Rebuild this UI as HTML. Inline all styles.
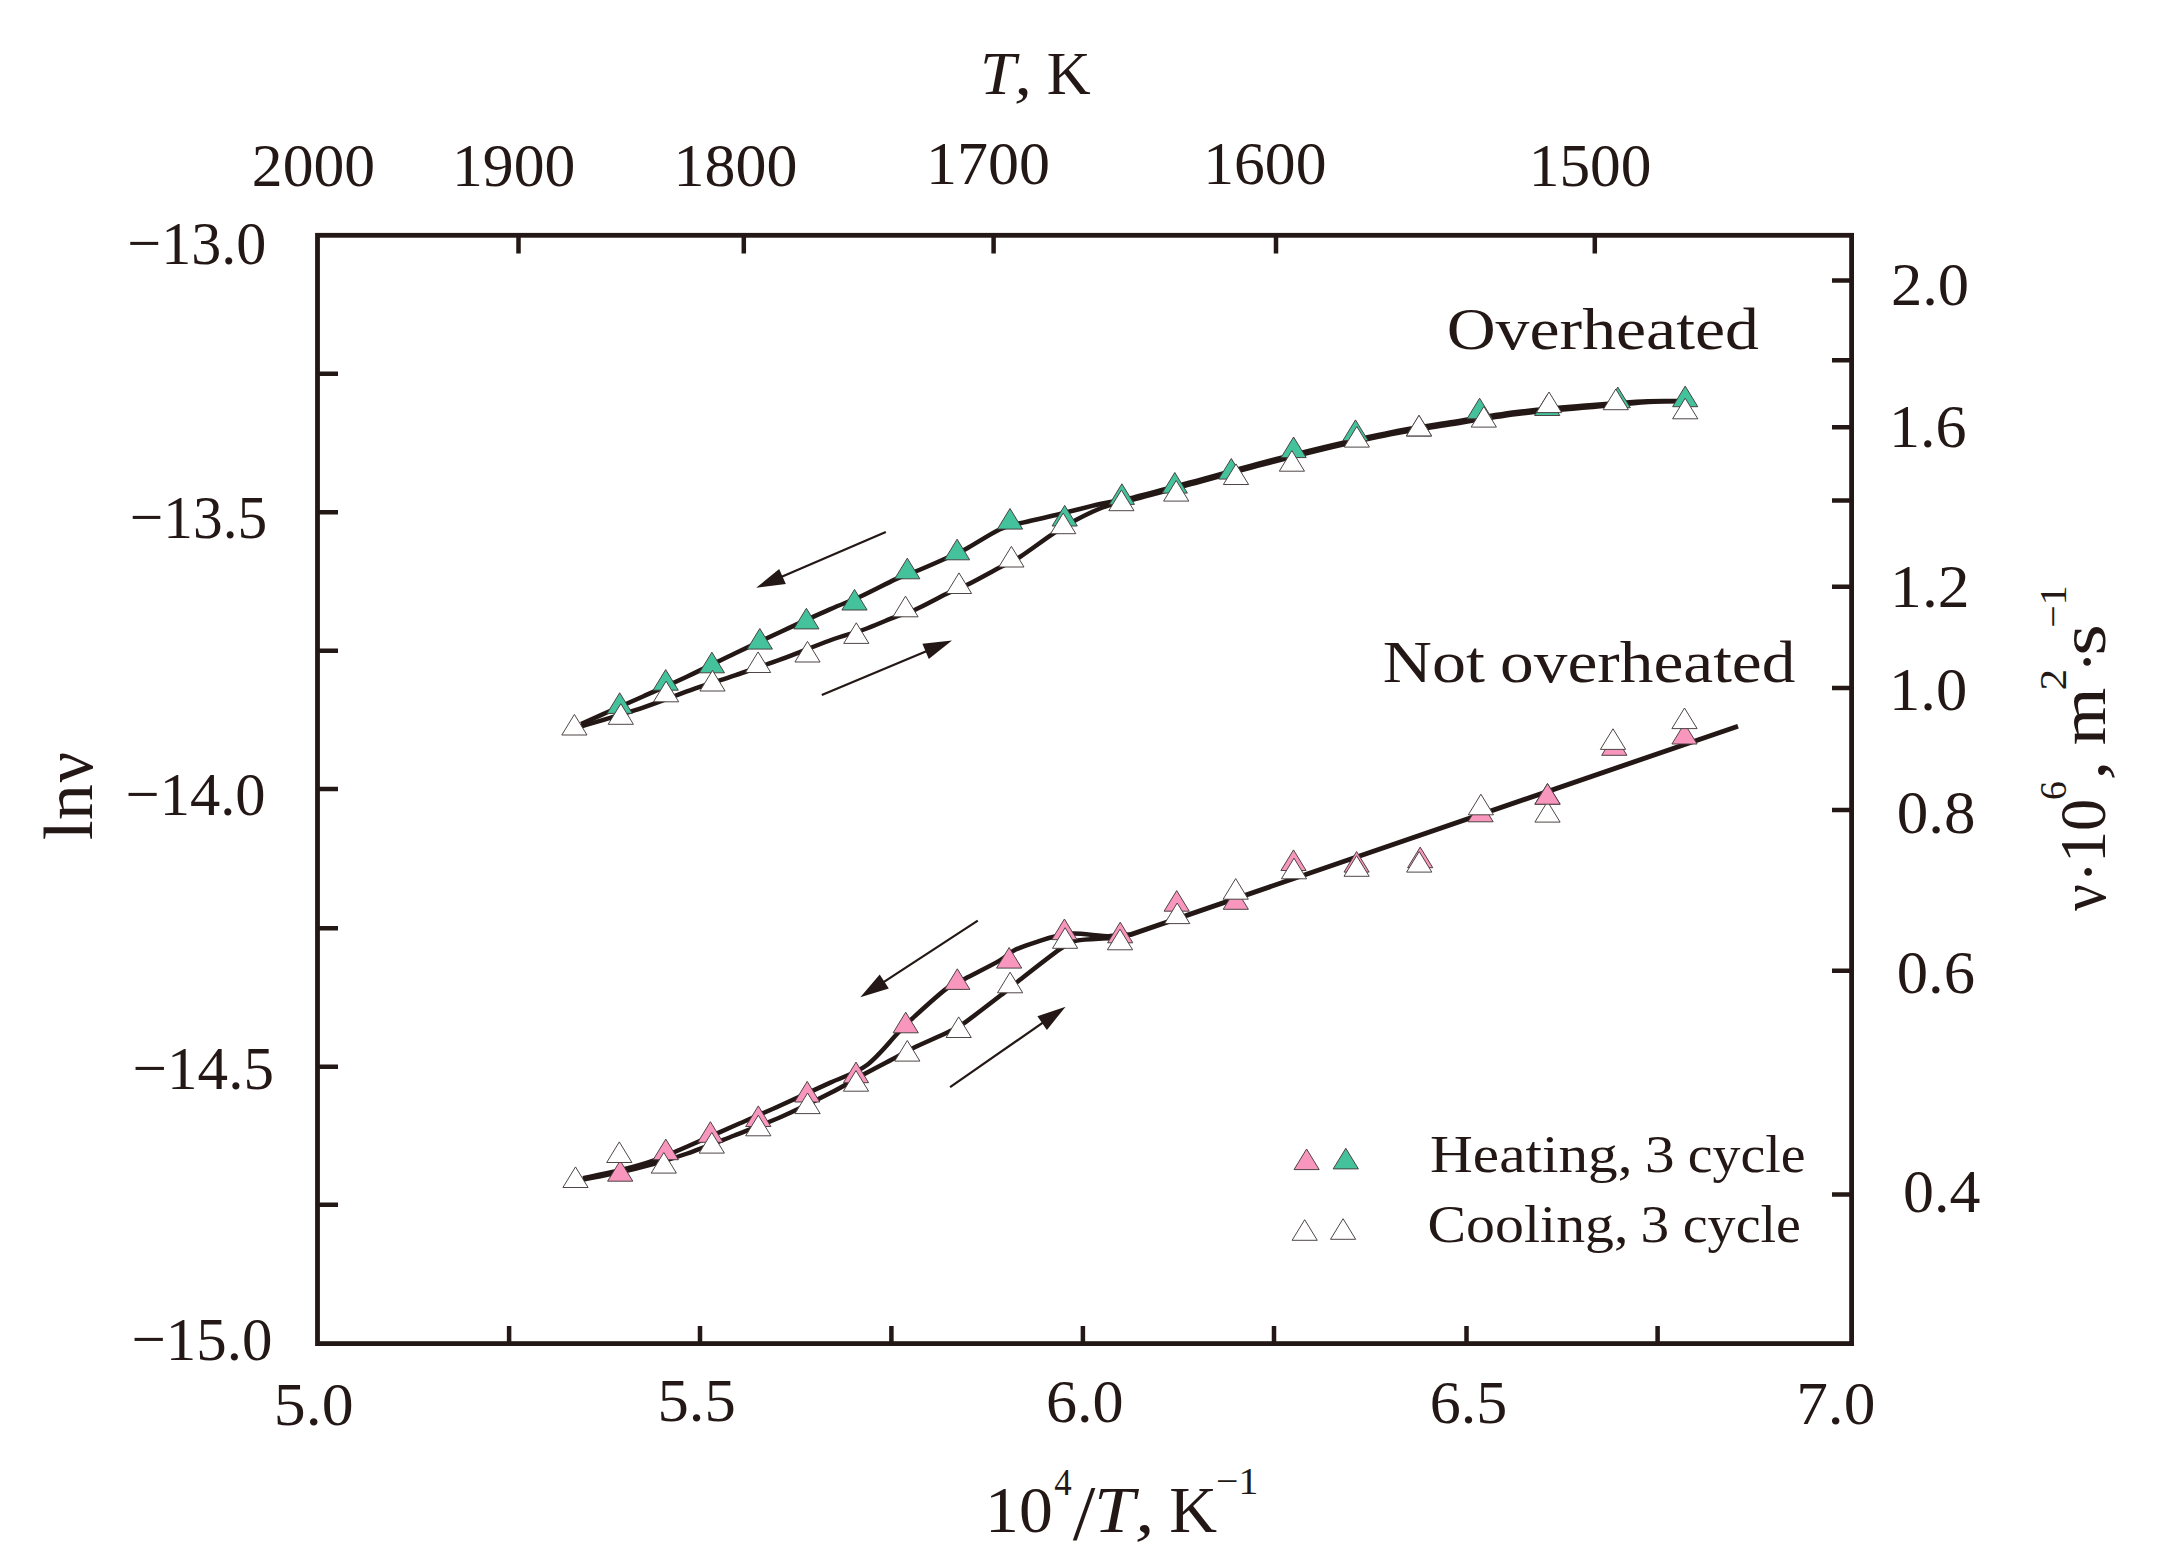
<!DOCTYPE html>
<html><head><meta charset="utf-8"><title>Viscosity chart</title>
<style>html,body{margin:0;padding:0;background:#fff}svg{display:block}text{font-family:"Liberation Serif",serif;fill:#231815}</style>
</head><body>
<svg width="2168" height="1568" viewBox="0 0 2168 1568">
<rect width="2168" height="1568" fill="#fff"/>
<rect x="317.5" y="235.3" width="1534.1" height="1108.3" fill="none" stroke="#231815" stroke-width="4.8"/>
<path d="M518.5 235.3V253.6 M743.8 235.3V253.6 M993.6 235.3V253.6 M1276 235.3V253.6 M1594.8 235.3V253.6 M509.1 1343.6V1326 M700 1343.6V1326 M891.4 1343.6V1326 M1082.9 1343.6V1326 M1274 1343.6V1326 M1466.5 1343.6V1326 M1657.6 1343.6V1326 M317.5 373.7H338 M317.5 512.3H338 M317.5 650.7H338 M317.5 789.0H338 M317.5 928.3H338 M317.5 1066.7H338 M317.5 1204.8H338 M1851.6 280.6H1832 M1851.6 360.3H1832 M1851.6 427.3H1832 M1851.6 500.6H1832 M1851.6 586.7H1832 M1851.6 688.1H1832 M1851.6 809.9H1832 M1851.6 970.8H1832 M1851.6 1194.5H1832" fill="none" stroke="#231815" stroke-width="4.5"/>
<g fill="none" stroke="#231815" stroke-width="4.5" stroke-linejoin="round">
<path d="M581.0 724.0C585.6 722.0 598.1 716.4 608.4 711.8C618.7 707.2 629.9 702.4 643.0 696.5C656.1 690.6 671.8 683.8 687.3 676.5C702.8 669.2 720.0 660.5 735.7 653.0C751.4 645.5 765.7 638.8 781.4 631.5C797.1 624.2 816.4 615.3 829.8 609.4C843.2 603.5 850.5 601.1 861.6 596.0C872.7 590.9 887.0 583.1 896.4 578.9C905.8 574.6 909.6 574.0 918.0 570.5C926.4 567.0 938.7 561.6 946.7 558.0C954.7 554.4 957.1 553.8 965.9 549.0C974.7 544.2 990.5 533.8 999.5 529.5C1008.5 525.2 1010.5 525.7 1019.9 523.3C1029.3 520.9 1042.6 518.2 1055.9 515.0C1069.2 511.8 1087.2 506.9 1100.0 504.0C1112.8 501.1 1117.8 501.2 1133.0 497.6C1148.2 494.0 1170.3 487.8 1191.1 482.2C1211.8 476.6 1235.3 469.8 1257.5 463.9C1279.7 458.0 1301.8 452.4 1324.0 447.1C1346.2 441.9 1369.8 436.4 1390.4 432.4C1411.0 428.3 1426.6 426.2 1447.7 422.8C1468.8 419.4 1493.9 414.9 1516.9 412.0C1540.0 409.1 1564.1 407.3 1586.0 405.5C1607.9 403.7 1632.1 401.9 1648.3 401.2C1664.5 400.5 1677.2 401.1 1683.0 401.1"/>
<path d="M581.0 726.6C591.3 723.4 624.8 713.7 643.0 707.6C661.2 701.5 674.5 695.7 690.0 690.3C705.5 684.9 720.5 680.3 735.7 675.1C750.9 669.9 765.7 665.0 781.4 659.2C797.1 653.4 816.0 645.5 829.8 640.5C843.6 635.5 853.5 633.3 864.0 629.5C874.5 625.7 884.2 621.2 892.8 617.9C901.4 614.6 906.6 613.5 915.6 609.5C924.6 605.5 937.9 598.0 946.7 593.8C955.5 589.6 959.3 588.8 968.3 584.3C977.3 579.8 992.1 571.5 1000.7 567.0C1009.3 562.5 1011.1 562.6 1019.9 557.0C1028.7 551.4 1044.3 539.5 1053.5 533.4C1062.7 527.3 1067.2 524.6 1075.0 520.5C1082.8 516.4 1092.8 511.5 1100.0 508.5C1107.2 505.5 1112.5 504.0 1118.0 502.5C1123.5 501.0 1120.8 502.7 1133.0 499.6C1145.2 496.6 1170.3 489.8 1191.1 484.2C1211.8 478.6 1235.3 471.8 1257.5 465.9C1279.7 460.0 1301.8 454.4 1324.0 449.1C1346.2 443.9 1369.8 438.4 1390.4 434.4C1411.0 430.3 1426.6 428.2 1447.7 424.8C1468.8 421.4 1493.9 416.9 1516.9 414.0C1540.0 411.1 1564.1 409.5 1586.0 407.5C1607.9 405.5 1632.1 403.1 1648.3 402.0C1664.5 401.0 1677.2 401.4 1683.0 401.3"/>
<path d="M583.0 1178.2C589.2 1176.9 608.1 1173.3 620.0 1170.3C631.9 1167.3 642.9 1164.4 654.1 1160.4C665.3 1156.4 673.9 1152.3 687.3 1146.5C700.7 1140.7 718.6 1132.7 734.3 1125.8C750.0 1118.9 765.5 1112.2 781.4 1105.0C797.3 1097.8 815.6 1089.5 829.8 1082.9C843.9 1076.3 854.9 1073.8 866.3 1065.5C877.7 1057.2 890.3 1040.8 898.1 1032.8C905.9 1024.8 905.2 1025.0 913.3 1017.6C921.4 1010.2 937.7 995.2 946.5 988.6C955.3 982.0 957.1 982.8 965.9 978.2C974.7 973.6 990.8 965.7 999.1 960.9C1007.4 956.1 1008.8 953.0 1015.7 949.6C1022.6 946.2 1033.9 942.8 1040.6 940.6C1047.3 938.4 1050.4 937.5 1055.9 936.3C1061.4 935.1 1064.8 933.6 1073.8 933.6C1082.8 933.6 1100.3 936.1 1109.8 936.3C1119.3 936.5 1127.1 934.9 1130.6 934.6"/>
<path d="M1109.8 936.3L1130.6 934.6L1738 726.2" stroke-width="4.9"/>
<path d="M583.0 1179.4C589.2 1178.2 608.1 1174.9 620.0 1172.3C631.9 1169.7 642.9 1166.9 654.1 1163.8C665.3 1160.7 673.9 1158.2 687.3 1153.5C700.7 1148.8 718.6 1141.6 734.3 1135.5C750.0 1129.4 765.5 1123.8 781.4 1116.8C797.3 1109.8 815.4 1100.7 829.8 1093.3C844.2 1085.9 856.6 1078.3 867.7 1072.3C878.9 1066.2 889.1 1061.1 896.7 1057.0C904.3 1052.9 904.5 1052.2 913.3 1047.9C922.1 1043.7 940.5 1035.8 949.3 1031.5C958.1 1027.2 956.9 1028.1 965.9 1021.8C974.9 1015.4 994.5 1000.2 1003.3 993.4C1012.1 986.6 1009.0 988.3 1018.5 980.9C1028.0 973.5 1050.3 955.8 1060.0 949.1C1069.7 942.4 1068.3 942.5 1076.6 940.6C1084.9 938.8 1101.2 938.8 1109.8 938.0C1118.4 937.2 1125.0 936.3 1128.0 936.0"/>
</g>
<path d="M885.8 532.0L778.8 578.1" stroke="#231815" stroke-width="2.2" fill="none"/>
<path d="M756.2 587.8L779.2 568.9L785.8 584.1Z" fill="#231815"/>
<path d="M821.8 695.0L929.3 649.9" stroke="#231815" stroke-width="2.2" fill="none"/>
<path d="M952.0 640.4L928.8 659.1L922.4 643.8Z" fill="#231815"/>
<path d="M977.8 920.6L880.9 983.8" stroke="#231815" stroke-width="2.2" fill="none"/>
<path d="M860.3 997.2L879.7 974.6L888.8 988.5Z" fill="#231815"/>
<path d="M950.1 1087.2L1045.4 1020.8" stroke="#231815" stroke-width="2.2" fill="none"/>
<path d="M1065.6 1006.7L1046.9 1029.9L1037.4 1016.2Z" fill="#231815"/>
<g stroke="#463c3c" stroke-width="0.95" stroke-linejoin="miter">
<path d="M619.7 692.8L632.3 713.4H607.1Z" fill="#44c29c"/>
<path d="M665.7 669.6L678.3 690.2H653.1Z" fill="#44c29c"/>
<path d="M711.9 652.2L724.5 672.8H699.3Z" fill="#44c29c"/>
<path d="M759.8 628.5L772.4 649.1H747.2Z" fill="#44c29c"/>
<path d="M806.4 608.3L819.0 628.9H793.8Z" fill="#44c29c"/>
<path d="M854.5 589.4L867.1 610.0H841.9Z" fill="#44c29c"/>
<path d="M907.3 558.2L919.9 578.8H894.7Z" fill="#44c29c"/>
<path d="M957.1 539.2L969.7 559.8H944.5Z" fill="#44c29c"/>
<path d="M1010.0 508.5L1022.6 529.1H997.4Z" fill="#44c29c"/>
<path d="M1064.7 505.4L1077.3 526.0H1052.1Z" fill="#44c29c"/>
<path d="M1121.9 483.8L1134.5 504.4H1109.3Z" fill="#44c29c"/>
<path d="M1174.8 472.5L1187.4 493.1H1162.2Z" fill="#44c29c"/>
<path d="M1231.3 458.5L1243.9 479.1H1218.7Z" fill="#44c29c"/>
<path d="M1293.6 437.0L1306.2 457.6H1281.0Z" fill="#44c29c"/>
<path d="M1355.5 419.9L1368.1 440.5H1342.9Z" fill="#44c29c"/>
<path d="M1419.0 415.5L1431.6 436.1H1406.4Z" fill="#44c29c"/>
<path d="M1479.6 398.2L1492.2 418.8H1467.0Z" fill="#44c29c"/>
<path d="M1547.2 394.9L1559.8 415.5H1534.6Z" fill="#44c29c"/>
<path d="M1617.8 387.1L1630.4 407.7H1605.2Z" fill="#44c29c"/>
<path d="M1685.2 386.1L1697.8 406.7H1672.6Z" fill="#44c29c"/>
<path d="M574.4 714.4L587.0 735.0H561.8Z" fill="#fff"/>
<path d="M620.8 703.7L633.4 724.3H608.2Z" fill="#fff"/>
<path d="M666.1 681.2L678.7 701.8H653.5Z" fill="#fff"/>
<path d="M712.5 670.4L725.1 691.0H699.9Z" fill="#fff"/>
<path d="M758.1 651.9L770.7 672.5H745.5Z" fill="#fff"/>
<path d="M807.5 641.4L820.1 662.0H794.9Z" fill="#fff"/>
<path d="M856.3 622.8L868.9 643.4H843.7Z" fill="#fff"/>
<path d="M905.5 596.2L918.1 616.8H892.9Z" fill="#fff"/>
<path d="M959.0 572.9L971.6 593.5H946.4Z" fill="#fff"/>
<path d="M1011.4 546.4L1024.0 567.0H998.8Z" fill="#fff"/>
<path d="M1063.2 513.1L1075.8 533.7H1050.6Z" fill="#fff"/>
<path d="M1121.4 490.1L1134.0 510.7H1108.8Z" fill="#fff"/>
<path d="M1176.2 480.5L1188.8 501.1H1163.6Z" fill="#fff"/>
<path d="M1236.0 463.9L1248.6 484.5H1223.4Z" fill="#fff"/>
<path d="M1291.9 450.6L1304.5 471.2H1279.3Z" fill="#fff"/>
<path d="M1356.8 426.5L1369.4 447.1H1344.2Z" fill="#fff"/>
<path d="M1419.0 415.3L1431.6 435.9H1406.4Z" fill="#fff"/>
<path d="M1483.8 406.5L1496.4 427.1H1471.2Z" fill="#fff"/>
<path d="M1549.0 392.0L1561.6 412.6H1536.4Z" fill="#fff"/>
<path d="M1615.8 389.1L1628.4 409.7H1603.2Z" fill="#fff"/>
<path d="M1685.2 398.2L1697.8 418.8H1672.6Z" fill="#fff"/>
<path d="M620.2 1160.6L632.8 1181.2H607.6Z" fill="#f896bd"/>
<path d="M665.8 1139.1L678.4 1159.7H653.2Z" fill="#f896bd"/>
<path d="M710.4 1121.7L723.0 1142.3H697.8Z" fill="#f896bd"/>
<path d="M758.3 1105.9L770.9 1126.5H745.7Z" fill="#f896bd"/>
<path d="M807.2 1081.4L819.8 1102.0H794.6Z" fill="#f896bd"/>
<path d="M856.0 1062.1L868.6 1082.7H843.4Z" fill="#f896bd"/>
<path d="M905.7 1012.2L918.3 1032.8H893.1Z" fill="#f896bd"/>
<path d="M957.3 968.8L969.9 989.4H944.7Z" fill="#f896bd"/>
<path d="M1009.1 947.5L1021.7 968.1H996.5Z" fill="#f896bd"/>
<path d="M1064.4 919.0L1077.0 939.6H1051.8Z" fill="#f896bd"/>
<path d="M1120.2 922.2L1132.8 942.8H1107.6Z" fill="#f896bd"/>
<path d="M1176.7 890.6L1189.3 911.2H1164.1Z" fill="#f896bd"/>
<path d="M1235.8 888.7L1248.4 909.3H1223.2Z" fill="#f896bd"/>
<path d="M1293.5 849.9L1306.1 870.5H1280.9Z" fill="#f896bd"/>
<path d="M1356.6 851.5L1369.2 872.1H1344.0Z" fill="#f896bd"/>
<path d="M1420.2 847.1L1432.8 867.7H1407.6Z" fill="#f896bd"/>
<path d="M1480.6 801.2L1493.2 821.8H1468.0Z" fill="#f896bd"/>
<path d="M1547.5 783.6L1560.1 804.2H1534.9Z" fill="#f896bd"/>
<path d="M1614.3 734.7L1626.9 755.3H1601.7Z" fill="#f896bd"/>
<path d="M1684.5 723.4L1697.1 744.0H1671.9Z" fill="#f896bd"/>
<path d="M575.5 1166.9L588.1 1187.5H562.9Z" fill="#fff"/>
<path d="M619.3 1141.9L631.9 1162.5H606.7Z" fill="#fff"/>
<path d="M663.8 1152.5L676.4 1173.1H651.2Z" fill="#fff"/>
<path d="M711.8 1132.5L724.4 1153.1H699.2Z" fill="#fff"/>
<path d="M758.3 1115.2L770.9 1135.8H745.7Z" fill="#fff"/>
<path d="M807.6 1093.0L820.2 1113.6H795.0Z" fill="#fff"/>
<path d="M856.0 1070.6L868.6 1091.2H843.4Z" fill="#fff"/>
<path d="M907.3 1040.5L919.9 1061.1H894.7Z" fill="#fff"/>
<path d="M958.7 1016.9L971.3 1037.5H946.1Z" fill="#fff"/>
<path d="M1010.1 972.2L1022.7 992.8H997.5Z" fill="#fff"/>
<path d="M1065.1 927.7L1077.7 948.3H1052.5Z" fill="#fff"/>
<path d="M1120.0 929.2L1132.6 949.8H1107.4Z" fill="#fff"/>
<path d="M1177.2 903.0L1189.8 923.6H1164.6Z" fill="#fff"/>
<path d="M1235.7 878.6L1248.3 899.2H1223.1Z" fill="#fff"/>
<path d="M1294.0 858.2L1306.6 878.8H1281.4Z" fill="#fff"/>
<path d="M1356.6 855.7L1369.2 876.3H1344.0Z" fill="#fff"/>
<path d="M1419.2 851.5L1431.8 872.1H1406.6Z" fill="#fff"/>
<path d="M1480.9 794.2L1493.5 814.8H1468.3Z" fill="#fff"/>
<path d="M1613.0 728.8L1625.6 749.4H1600.4Z" fill="#fff"/>
<path d="M1684.5 708.0L1697.1 728.6H1671.9Z" fill="#fff"/>
<path d="M1547.5 801.5L1560.1 822.1H1534.9Z" fill="#fff"/>
<path d="M1547.5 783.6L1560.1 804.2H1534.9Z" fill="#f896bd"/>
<path d="M1306.6 1149.0L1319.2 1169.6H1294.0Z" fill="#f896bd"/>
<path d="M1345.8 1148.3L1358.4 1168.9H1333.2Z" fill="#44c29c"/>
<path d="M1304.7 1219.7L1317.3 1240.3H1292.1Z" fill="#fff"/>
<path d="M1343.1 1218.7L1355.7 1239.3H1330.5Z" fill="#fff"/>
</g>
<text transform="translate(251.87 185.80) scale(0.9943 1)" font-size="62">2000</text>
<text transform="translate(452.03 185.80) scale(0.9946 1)" font-size="62">1900</text>
<text transform="translate(673.51 185.80) scale(0.9989 1)" font-size="62">1800</text>
<text transform="translate(925.90 184.00) scale(1.0006 1)" font-size="62">1700</text>
<text transform="translate(1203.23 184.00) scale(0.9938 1)" font-size="62">1600</text>
<text transform="translate(1528.76 185.80) scale(0.9895 1)" font-size="62">1500</text>
<text><tspan x="979.92" y="93.80" font-size="62" font-style="italic" textLength="35.80" lengthAdjust="spacingAndGlyphs">T</tspan><tspan x="1014.21" y="93.80" font-size="62" font-style="italic" textLength="17.71" lengthAdjust="spacingAndGlyphs">,</tspan> <tspan x="1046.68" y="93.80" font-size="62" textLength="43.96" lengthAdjust="spacingAndGlyphs">K</tspan></text>
<text transform="translate(127.27 264.30) scale(0.9696 1)" font-size="62">−13.0</text>
<text transform="translate(129.81 537.80) scale(0.9580 1)" font-size="62">−13.5</text>
<text transform="translate(125.55 814.60) scale(0.9761 1)" font-size="62">−14.0</text>
<text transform="translate(132.62 1089.40) scale(0.9855 1)" font-size="62">−14.5</text>
<text transform="translate(131.43 1359.80) scale(0.9833 1)" font-size="62">−15.0</text>
<text transform="translate(273.87 1425.30) scale(1.0294 1)" font-size="62">5.0</text>
<text transform="translate(657.53 1421.30) scale(1.0112 1)" font-size="62">5.5</text>
<text transform="translate(1045.97 1422.20) scale(1.0028 1)" font-size="62">6.0</text>
<text transform="translate(1429.67 1422.80) scale(1.0014 1)" font-size="62">6.5</text>
<text transform="translate(1796.18 1424.30) scale(1.0225 1)" font-size="62">7.0</text>
<text transform="translate(1890.92 305.00) scale(1.0100 1)" font-size="62">2.0</text>
<text transform="translate(1888.99 446.60) scale(1.0025 1)" font-size="62">1.6</text>
<text transform="translate(1890.05 607.00) scale(1.0273 1)" font-size="62">1.2</text>
<text transform="translate(1888.95 709.70) scale(1.0097 1)" font-size="62">1.0</text>
<text transform="translate(1896.68 833.00) scale(1.0172 1)" font-size="62">0.8</text>
<text transform="translate(1896.70 993.20) scale(1.0102 1)" font-size="62">0.6</text>
<text transform="translate(1903.03 1212.20) scale(0.9983 1)" font-size="62">0.4</text>
<text><tspan x="1446.67" y="348.70" font-size="59" textLength="312.32" lengthAdjust="spacingAndGlyphs">Overheated</tspan></text>
<text><tspan x="1382.88" y="681.80" font-size="59" textLength="102.05" lengthAdjust="spacingAndGlyphs">Not</tspan> <tspan x="1500.13" y="681.80" font-size="59" textLength="295.27" lengthAdjust="spacingAndGlyphs">overheated</tspan></text>
<text><tspan x="1429.99" y="1171.50" font-size="52" textLength="202.60" lengthAdjust="spacingAndGlyphs">Heating,</tspan> <tspan x="1644.95" y="1171.50" font-size="52" textLength="29.63" lengthAdjust="spacingAndGlyphs">3</tspan> <tspan x="1687.75" y="1171.50" font-size="52" textLength="117.90" lengthAdjust="spacingAndGlyphs">cycle</tspan></text>
<text><tspan x="1427.54" y="1242.00" font-size="52" textLength="200.93" lengthAdjust="spacingAndGlyphs">Cooling,</tspan> <tspan x="1640.54" y="1242.00" font-size="52" textLength="28.66" lengthAdjust="spacingAndGlyphs">3</tspan> <tspan x="1682.74" y="1242.00" font-size="52" textLength="118.21" lengthAdjust="spacingAndGlyphs">cycle</tspan></text>
<text><tspan x="985.11" y="1531.80" font-size="65" textLength="67.69" lengthAdjust="spacingAndGlyphs">10</tspan><tspan x="1054.31" y="1494.70" font-size="38" textLength="17.46" lengthAdjust="spacingAndGlyphs">4</tspan><tspan x="1072.80" y="1538.75" font-size="79.3" textLength="22.62" lengthAdjust="spacingAndGlyphs">/</tspan><tspan x="1093.91" y="1531.80" font-size="65" font-style="italic" textLength="40.75" lengthAdjust="spacingAndGlyphs">T</tspan><tspan x="1134.95" y="1531.80" font-size="65" font-style="italic" textLength="19.50" lengthAdjust="spacingAndGlyphs">,</tspan> <tspan x="1169.39" y="1531.80" font-size="65" textLength="47.81" lengthAdjust="spacingAndGlyphs">K</tspan><tspan x="1216.14" y="1493.70" font-size="38" textLength="42.16" lengthAdjust="spacingAndGlyphs">−1</tspan></text>
<text transform="translate(91.9 839.4) rotate(-90)"><tspan x="-0.94" y="0.00" font-size="69" textLength="56.03" lengthAdjust="spacingAndGlyphs">ln</tspan><tspan x="56.88" y="0.00" font-size="69" textLength="30.67" lengthAdjust="spacingAndGlyphs">ν</tspan></text>
<text transform="translate(2104.6 911) rotate(-90)"><tspan x="-0.11" y="0.00" font-size="65" textLength="26.90" lengthAdjust="spacingAndGlyphs">ν</tspan><tspan x="28.19" y="5.46" font-size="65">·</tspan><tspan x="47.91" y="0.00" font-size="65" textLength="64.37" lengthAdjust="spacingAndGlyphs">10</tspan><tspan x="110.89" y="-38.30" font-size="38" textLength="18.82" lengthAdjust="spacingAndGlyphs">6</tspan><tspan x="130.95" y="0.00" font-size="65" font-style="italic" textLength="19.50" lengthAdjust="spacingAndGlyphs">,</tspan> <tspan x="165.83" y="0.00" font-size="65" textLength="57.68" lengthAdjust="spacingAndGlyphs">m</tspan><tspan x="220.45" y="-38.30" font-size="38" textLength="21.68" lengthAdjust="spacingAndGlyphs">2</tspan><tspan x="238.19" y="4.36" font-size="65">·</tspan><tspan x="255.21" y="0.00" font-size="65" textLength="31.66" lengthAdjust="spacingAndGlyphs">s</tspan><tspan x="283.33" y="-38.30" font-size="38" textLength="42.38" lengthAdjust="spacingAndGlyphs">−1</tspan></text>
</svg>
</body></html>
